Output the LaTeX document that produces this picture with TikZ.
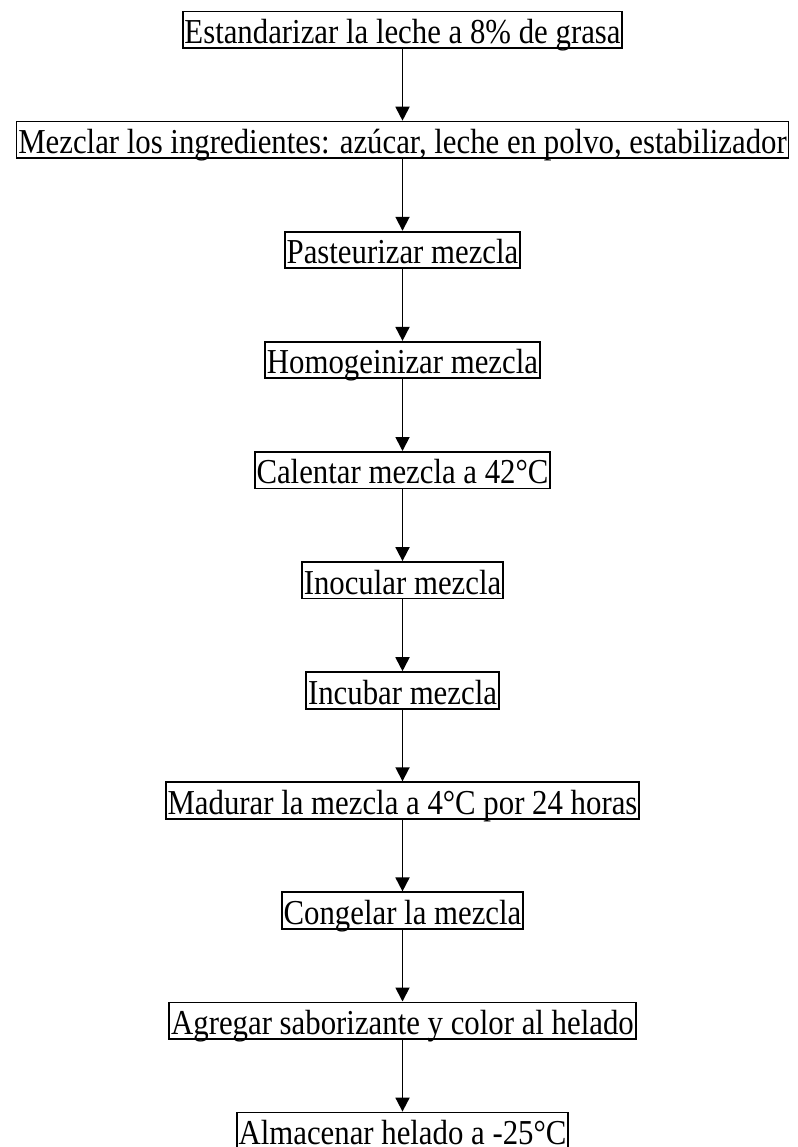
\documentclass[tikz,border=0pt]{standalone}
\usepackage{fontspec}
\setmainfont{Liberation Serif}[FakeStretch=0.88]
\usetikzlibrary{arrows.meta}
\begin{document}
\begin{tikzpicture}[x=1pt,y=1pt,
  stepbox/.style={draw, line width=1.8pt, inner xsep=1.8pt, inner ysep=0pt,
    text height=32pt, text depth=4.5pt, anchor=north,
    font=\fontsize{35}{40}\selectfont},
  flow/.style={-{Triangle[width=14pt,length=14pt]}, line width=1.8pt}]
\useasboundingbox (0,0) rectangle (797,-1147);
\node[stepbox] (n1)  at (402.5,-10.6)   {Estandarizar la leche a 8\% de grasa};
\node[stepbox] (n2)  at (402.5,-120.7)  {Mezclar los ingredientes: azúcar, leche en polvo, estabilizador};
\node[stepbox] (n3)  at (402.5,-230.8)  {Pasteurizar mezcla};
\node[stepbox] (n4)  at (402.5,-340.9)  {Homogeinizar mezcla};
\node[stepbox] (n5)  at (402.5,-451.0)  {Calentar mezcla a 42°C};
\node[stepbox] (n6)  at (402.5,-561.1)  {Inocular mezcla};
\node[stepbox] (n7)  at (402.5,-671.2)  {Incubar mezcla};
\node[stepbox] (n8)  at (402.5,-781.3)  {Madurar la mezcla a 4°C por 24 horas};
\node[stepbox] (n9)  at (402.5,-891.4)  {Congelar la mezcla};
\node[stepbox] (n10) at (402.5,-1001.5) {Agregar saborizante y color al helado};
\node[stepbox] (n11) at (402.5,-1111.6) {Almacenar helado a -25°C};
\foreach \a/\b in {n1/n2,n2/n3,n3/n4,n4/n5,n5/n6,n6/n7,n7/n8,n8/n9,n9/n10,n10/n11}
  \draw[flow] (\a) -- (\b);
\end{tikzpicture}
\end{document}
